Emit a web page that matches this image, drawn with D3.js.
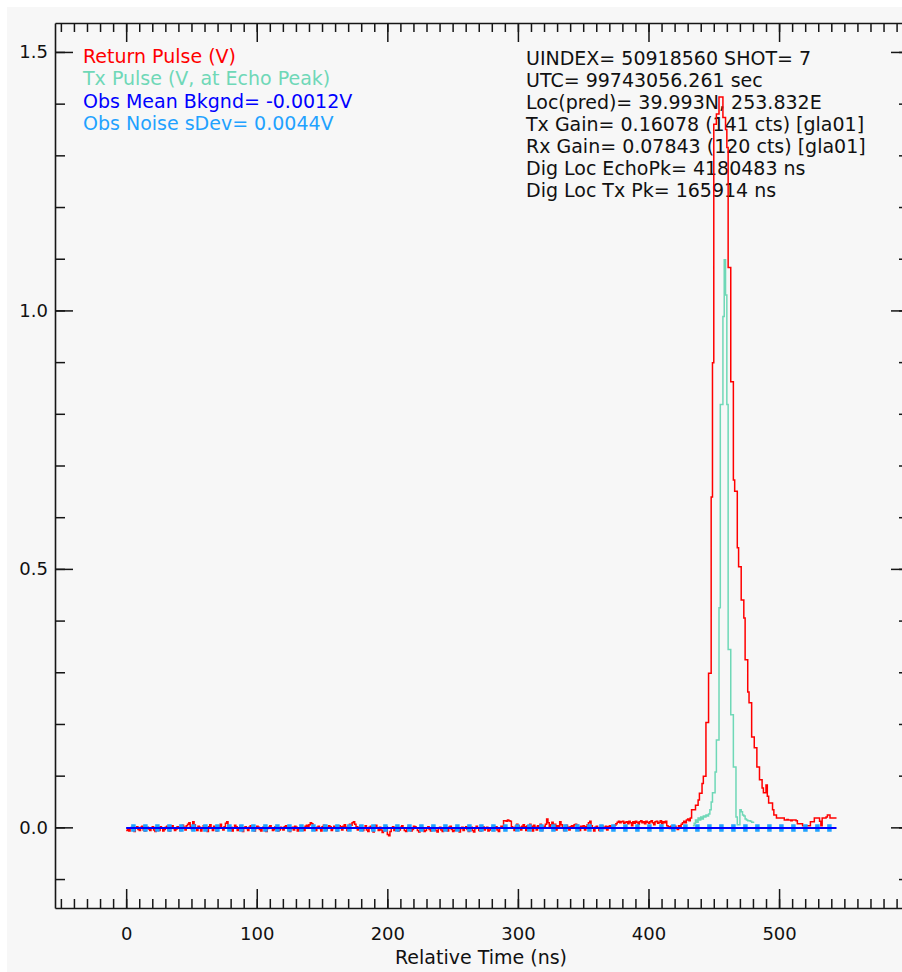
<!DOCTYPE html>
<html><head><meta charset="utf-8">
<script src="https://cdn.jsdelivr.net/npm/d3@7"></script>
<style>body{margin:0;background:#fff}svg{display:block}</style>
</head><body><svg id="c" width="902" height="972"></svg>
<script>
// ---------------- data ----------------
const xDomain = [-54.5, 599.5];          // Relative Time (ns)
const yDomain = [-0.156, 1.556];          // Volts
const xMajorTicks = [0, 100, 200, 300, 400, 500];
const yMajorTicks = [0.0, 0.5, 1.0, 1.5];
const xMinorStep = 10;
const yMinorStep = 0.1;

const returnStartNs = 0;   // first sample time, 1 ns sampling
const returnPulseMv = [
  -6,-1,-7,-2,0,-5,-8,-1,1,-4,-6,0,2,-5,-7,-2,0,-3,-6,-1,
  1,-5,-8,0,-2,-6,1,-1,-7,-4,0,2,-5,-7,-1,3,-2,-6,-3,1,
  -1,-6,2,4,0,-5,3,6,9,1,-4,11,5,-1,-6,2,0,-7,-2,3,
  0,-5,-8,1,5,-1,-6,2,-2,-7,3,0,6,-1,-5,1,8,11,3,-4,
  0,-7,-1,4,1,-6,-2,2,-5,-8,-1,1,-2,-6,0,3,-1,-5,-7,-2,
  2,0,-4,-7,-1,1,-6,-8,-2,0,3,-1,-6,-4,1,-1,-7,-5,0,-2,
  -5,1,3,-1,-6,-8,-2,0,-5,2,0,-7,-4,-1,1,-2,-6,2,4,1,
  5,9,7,3,-1,-6,0,2,-2,-7,1,4,-1,-5,0,3,1,-6,-2,2,
  -1,-7,0,3,1,-5,2,5,0,-6,3,6,4,9,11,6,1,-5,0,3,
  0,-6,-1,3,-5,-8,0,2,-4,-9,1,4,-1,-6,0,-5,-10,-7,-1,1,
  -14,-16,-8,-1,1,-6,-2,2,-7,-5,0,3,-1,-6,-8,-2,1,-1,-7,-4,
  2,1,-1,-6,-9,-5,0,-2,-8,-6,-1,1,-4,-7,0,2,-1,-6,-9,-2,
  0,-5,-8,-1,1,-2,-7,0,2,-4,-8,-6,-1,1,-5,-9,-2,0,-6,-1,
  1,-4,-8,-1,0,-6,-9,-2,2,-1,-6,-7,-1,1,-5,-2,0,-7,-5,-1,
  0,-6,-2,1,-5,-8,-1,2,0,13,13,12,14,13,12,1,-1,-6,2,6,
  3,0,-5,2,5,1,-6,3,-1,6,2,-7,4,0,-5,3,1,6,-6,-1,
  2,6,16,9,1,5,10,2,6,-5,3,0,11,5,-1,-6,2,4,0,-5,
  1,3,-1,5,6,4,0,-6,2,-1,3,-5,1,5,9,12,3,-1,-7,0,
  2,-1,-6,1,3,0,-2,2,-5,1,3,0,2,-4,4,7,10,12,9,11,
  12,8,10,11,7,12,9,3,11,8,12,10,6,11,13,9,11,7,12,10,
  8,11,13,9,5,11,12,8,10,13,7,11,9,12,3,1,-2,2,-4,0,
  2,-1,-4,3,1,6,9,12,9,14,16,13,18,
  34,34,34,43,43,53,66,66,85,99,99,203,203,298,298,639,899,1360,1360,1380,
  1380,1413,1413,1413,1373,1373,1350,1315,1083,1083,862,862,672,650,650,541,504,504,440,440,
  405,324,324,262,241,241,175,175,154,154,117,117,92,92,76,67,67,82,60,47,
  47,47,34,24,24,
  18,18,18,18,18,18,
  14,14,15,14,14,13,14,14,14,13,
  7,7,7,7,
  3,3,3,3,3,3,
  11,11,11,
  18,18,18,18,
  12,3,18,18,18,20,24,24,
  18,18,18,18,18
];

const txStartNs = 434;
const txPulseMv = [
  3,8,14,10,18,14,20,16,22,20,24,22,26,34,49,67,67,107,169,169,
  425,818,818,988,1098,1030,818,344,344,218,218,117,117,20,5,5,34,30,24,22,
  16,14,13,13,12,10,10
];

const bkgndMeanV = -0.0012;
const noiseSdevV = 0.0044;

const legendTexts = [
  "Return Pulse (V)",
  "Tx Pulse (V, at Echo Peak)",
  "Obs Mean Bkgnd= -0.0012V",
  "Obs Noise sDev= 0.0044V"
];
const infoTexts = [
  "UINDEX= 50918560 SHOT= 7",
  "UTC= 99743056.261 sec",
  "Loc(pred)= 39.993N, 253.832E",
  "Tx Gain= 0.16078 (141 cts) [gla01]",
  "Rx Gain= 0.07843 (120 cts) [gla01]",
  "Dig Loc EchoPk= 4180483 ns",
  "Dig Loc Tx Pk= 165914 ns"
];
const xTitle = "Relative Time (ns)";

// ---------------- styles ----------------
const C = {
  ret: "#ff0000", tx: "#6fd8b7", mean: "#0000ff", noise: "#1fa2ff",
  axis: "#161616", bg: "#f7f7f7"
};
const legendColors = [C.ret, C.tx, C.mean, C.noise];
const FONT = "'DejaVu Sans', sans-serif";

const svg = d3.select("#c");
svg.append("rect").attr("x", 7).attr("y", 7).attr("width", 895).attr("height", 965).attr("fill", C.bg);

const x = d3.scaleLinear().domain(xDomain).range([55, 909]);
const y = d3.scaleLinear().domain(yDomain).range([908, 23]);

const xMinor = d3.range(-50, 600, xMinorStep).filter(v => v > xDomain[0] && v < xDomain[1]);
const yMinor = d3.range(-1, 16).map(k => +(k * yMinorStep).toFixed(1));

function styleAxis(g) {
  g.selectAll(".domain").attr("stroke", C.axis).attr("stroke-width", 1.6);
  g.selectAll(".tick line").attr("stroke", C.axis).attr("stroke-width", 1.5);
  g.selectAll("text").attr("font-family", FONT).attr("fill", "#111");
}

const [X0, X1] = x.range();
const [YB, YT] = y.range();

// bottom axis (ticks point inward/up)
svg.append("g").attr("transform", `translate(0,${YB})`)
  .call(d3.axisTop(x).tickValues(xMinor).tickSize(9).tickSizeOuter(0).tickFormat(""))
  .call(styleAxis);
svg.append("g").attr("transform", `translate(0,${YB})`)
  .call(d3.axisTop(x).tickValues(xMajorTicks).tickSize(19).tickSizeOuter(0).tickFormat(""))
  .call(g => g.select(".domain").remove()).call(styleAxis);
svg.append("g").attr("transform", `translate(0,${YB})`)
  .call(d3.axisBottom(x).tickValues(xMajorTicks).tickSize(0).tickPadding(19).tickFormat(d3.format("d")))
  .call(g => g.select(".domain").remove()).call(styleAxis)
  .call(g => g.selectAll("text").attr("font-size", 18));

// top axis (ticks point down)
svg.append("g").attr("transform", `translate(0,${YT})`)
  .call(d3.axisBottom(x).tickValues(xMinor).tickSize(9).tickSizeOuter(0).tickFormat(""))
  .call(styleAxis);
svg.append("g").attr("transform", `translate(0,${YT})`)
  .call(d3.axisBottom(x).tickValues(xMajorTicks).tickSize(19).tickSizeOuter(0).tickFormat(""))
  .call(g => g.select(".domain").remove()).call(styleAxis);

// left axis (ticks point right)
svg.append("g").attr("transform", `translate(${X0},0)`)
  .call(d3.axisRight(y).tickValues(yMinor).tickSize(10).tickSizeOuter(0).tickFormat(""))
  .call(styleAxis);
svg.append("g").attr("transform", `translate(${X0},0)`)
  .call(d3.axisRight(y).tickValues(yMajorTicks).tickSize(18).tickSizeOuter(0).tickFormat(""))
  .call(g => g.select(".domain").remove()).call(styleAxis);
svg.append("g").attr("transform", `translate(${X0},0)`)
  .call(d3.axisLeft(y).tickValues(yMajorTicks).tickSize(0).tickPadding(7).tickFormat(d3.format(".1f")))
  .call(g => g.select(".domain").remove()).call(styleAxis)
  .call(g => g.selectAll("text").attr("font-size", 18));

// right axis (ticks point left)
svg.append("g").attr("transform", `translate(${X1},0)`)
  .call(d3.axisLeft(y).tickValues(yMinor).tickSize(10).tickSizeOuter(0).tickFormat(""))
  .call(styleAxis);
svg.append("g").attr("transform", `translate(${X1},0)`)
  .call(d3.axisLeft(y).tickValues(yMajorTicks).tickSize(18).tickSizeOuter(0).tickFormat(""))
  .call(g => g.select(".domain").remove()).call(styleAxis);

// axis title
svg.append("text").attr("x", (X0 + X1) / 2 - 1).attr("y", 964)
  .attr("text-anchor", "middle").attr("font-family", FONT).attr("font-size", 19)
  .attr("fill", "#111").text(xTitle);

// legend (left) and info block (right)
svg.append("g").selectAll("text").data(legendTexts).join("text")
  .attr("x", 83).attr("y", (d, i) => 63 + i * 22.4)
  .attr("font-family", FONT).attr("font-size", 19)
  .attr("fill", (d, i) => legendColors[i]).text(d => d);

svg.append("g").selectAll("text").data(infoTexts).join("text")
  .attr("x", 526).attr("y", (d, i) => 65 + i * 22)
  .attr("font-family", FONT).attr("font-size", 19)
  .attr("fill", "#111").text(d => d);

// ---------------- series ----------------
const retData = returnPulseMv.map((mv, i) => ({ t: returnStartNs + i, v: mv / 1000 }));
retData.push({ t: retData[retData.length - 1].t + 1, v: retData[retData.length - 1].v });
const txData = txPulseMv.map((mv, i) => ({ t: txStartNs + i, v: mv / 1000 }));
txData.push({ t: txData[txData.length - 1].t + 1, v: txData[txData.length - 1].v });

const stepLine = d3.line().x(d => x(d.t)).y(d => y(d.v)).curve(d3.curveStepAfter);

svg.append("path").datum(retData).attr("d", stepLine)
  .attr("fill", "none").attr("stroke", C.ret).attr("stroke-width", 1.5);
svg.append("path").datum(txData).attr("d", stepLine)
  .attr("fill", "none").attr("stroke", C.tx).attr("stroke-width", 1.5);

const tStart = retData[0].t, tEnd = retData[retData.length - 1].t;
[bkgndMeanV + noiseSdevV, bkgndMeanV - noiseSdevV].forEach(v => {
  svg.append("path").datum([{ t: tStart, v }, { t: tEnd, v }]).attr("d", stepLine)
    .attr("fill", "none").attr("stroke", C.noise).attr("stroke-width", 2.8)
    .attr("stroke-dasharray", "4.5 7.5").attr("stroke-dashoffset", -5);
});
svg.append("path").datum([{ t: tStart, v: bkgndMeanV }, { t: tEnd, v: bkgndMeanV }]).attr("d", stepLine)
  .attr("fill", "none").attr("stroke", C.mean).attr("stroke-width", 2);
</script>
</body></html>
